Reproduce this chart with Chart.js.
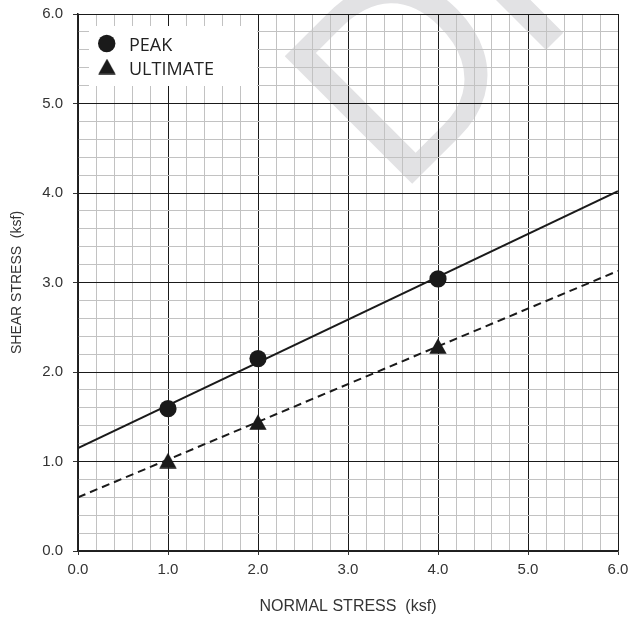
<!DOCTYPE html>
<html>
<head>
<meta charset="utf-8">
<script src="https://cdn.jsdelivr.net/npm/chart.js@4.4.1/dist/chart.umd.min.js"></script>
<style>
  html, body { margin: 0; padding: 0; background: #ffffff; }
  #wrap { width: 629px; height: 618px; position: relative; }
</style>
</head>
<body>
<div id="wrap"><canvas id="c" width="629" height="618"></canvas></div>
<script>
// ---- data ----
const normalStress = [1, 2, 4];
const peakShear = [1.59, 2.15, 3.04];
const ultimateShear = [1.01, 1.44, 2.29];
const fitX = [0, 6];
const peakFit = [1.15, 4.02];
const ultimateFit = [0.60, 3.13];
const seriesLabels = ['PEAK', 'ULTIMATE'];
const tickLabels = ['0.0', '1.0', '2.0', '3.0', '4.0', '5.0', '6.0'];
const xTitle = 'NORMAL STRESS  (ksf)';
const yTitle = 'SHEAR STRESS  (ksf)';
const watermarkText = 'DRAFT';

const INK = '#1a1a1a';

// triangle marker centred on its bounding box
function makeTriangle(w, h) {
  const c = document.createElement('canvas');
  c.width = w; c.height = h;
  const g = c.getContext('2d');
  g.fillStyle = INK;
  g.beginPath();
  g.moveTo(w / 2, 0.3);
  g.lineTo(w - 0.3, h - 0.3);
  g.lineTo(0.3, h - 0.3);
  g.closePath();
  g.fill();
  return c;
}
const triMarker = makeTriangle(18, 16);
const triLegend = makeTriangle(18, 16);

function isMajor(v) { return Math.abs(v - Math.round(v)) < 1e-6; }
function pts(xs, ys) { return xs.map((x, i) => ({ x: x, y: ys[i] })); }

const watermarkPlugin = {
  id: 'watermark',
  beforeDraw(chart) {
    const ctx = chart.ctx;
    ctx.save();
    ctx.fillStyle = '#ffffff';
    ctx.fillRect(0, 0, chart.width, chart.height);
    ctx.translate(397, 199);
    ctx.rotate(-Math.PI / 4);
    ctx.fillStyle = '#e2e2e4';
    ctx.font = '262px "Liberation Sans", Arial, sans-serif';
    ctx.textBaseline = 'alphabetic';
    ctx.textAlign = 'left';
    ctx.fillText(watermarkText, 0, 0);
    ctx.restore();
  }
};

const legendPlugin = {
  id: 'boxLegend',
  afterDraw(chart) {
    const ctx = chart.ctx;
    ctx.save();
    ctx.fillStyle = '#ffffff';
    ctx.fillRect(89, 26, 168, 60);
    ctx.fillStyle = INK;
    ctx.beginPath();
    ctx.arc(106.7, 43.5, 8.7, 0, Math.PI * 2);
    ctx.fill();
    ctx.drawImage(triLegend, 107 - 9, 66.5 - 8);
    ctx.fillStyle = '#222222';
    ctx.font = '18px "Open Sans", sans-serif';
    ctx.textBaseline = 'alphabetic';
    ctx.textAlign = 'left';
    ctx.fillText(chart.data.datasets[0].label, 129, 50.5);
    ctx.fillText(chart.data.datasets[1].label, 129, 75);
    ctx.restore();
  }
};

const tickFont = { family: '"Liberation Sans", Arial, sans-serif', size: 15 };

function gridColor(ctx) {
  return (ctx.tick && isMajor(ctx.tick.value)) ? INK : '#c2c2c2';
}
function tickMarkColor(ctx) {
  return (ctx.tick && isMajor(ctx.tick.value)) ? '#333333' : 'rgba(0,0,0,0)';
}
function tickCallback(v) {
  return isMajor(v) ? tickLabels[Math.round(v)] : '';
}

new Chart(document.getElementById('c'), {
  type: 'scatter',
  data: {
    datasets: [
      {
        label: seriesLabels[0],
        data: pts(normalStress, peakShear),
        pointStyle: 'circle',
        pointRadius: 8.6,
        pointHoverRadius: 8.6,
        backgroundColor: INK,
        borderColor: INK,
        borderWidth: 0,
        showLine: false,
        order: 1
      },
      {
        label: seriesLabels[1],
        data: pts(normalStress, ultimateShear),
        pointStyle: triMarker,
        pointRadius: 9,
        backgroundColor: INK,
        borderColor: INK,
        showLine: false,
        order: 1
      },
      {
        label: 'peak fit',
        data: pts(fitX, peakFit),
        showLine: true,
        borderColor: INK,
        borderWidth: 2,
        pointRadius: 0,
        fill: false,
        order: 2
      },
      {
        label: 'ultimate fit',
        data: pts(fitX, ultimateFit),
        showLine: true,
        borderColor: INK,
        borderWidth: 2,
        borderDash: [8, 5],
        pointRadius: 0,
        fill: false,
        order: 2
      }
    ]
  },
  options: {
    responsive: false,
    animation: false,
    devicePixelRatio: 1,
    layout: { padding: { left: 0, right: 11, top: 14, bottom: 0 } },
    plugins: {
      legend: { display: false },
      tooltip: { enabled: false }
    },
    scales: {
      x: {
        type: 'linear',
        min: 0, max: 6,
        afterFit(scale) {
          scale.height = 67;
          scale.paddingLeft = 0;
          scale.paddingRight = 0;
        },
        ticks: {
          stepSize: 0.2,
          autoSkip: false,
          maxRotation: 0,
          padding: 6,
          color: '#333333',
          font: tickFont,
          callback: tickCallback
        },
        grid: {
          color: gridColor,
          lineWidth: 1,
          drawTicks: true,
          tickLength: 4,
          tickColor: tickMarkColor,
          tickWidth: 1
        },
        border: { display: true, color: '#222222', width: 1.5 },
        title: {
          display: true,
          text: xTitle,
          color: '#333333',
          font: { family: '"Liberation Sans", Arial, sans-serif', size: 16, lineHeight: 1.2 },
          padding: { top: 0, bottom: 1.5 }
        }
      },
      y: {
        type: 'linear',
        min: 0, max: 6,
        afterFit(scale) {
          scale.width = 78;
          scale.paddingTop = 0;
          scale.paddingBottom = 0;
        },
        ticks: {
          stepSize: 0.2,
          autoSkip: false,
          padding: 10,
          color: '#333333',
          font: tickFont,
          callback: tickCallback
        },
        grid: {
          color: gridColor,
          lineWidth: 1,
          drawTicks: true,
          tickLength: 5,
          tickColor: tickMarkColor,
          tickWidth: 1
        },
        border: { display: true, color: '#222222', width: 1.5 },
        title: {
          display: true,
          text: yTitle,
          color: '#333333',
          font: { family: '"Liberation Sans", Arial, sans-serif', size: 14, lineHeight: 1.2 },
          padding: { top: 8.6, bottom: 0 }
        }
      }
    }
  },
  plugins: [watermarkPlugin, legendPlugin]
});
</script>
</body>
</html>
